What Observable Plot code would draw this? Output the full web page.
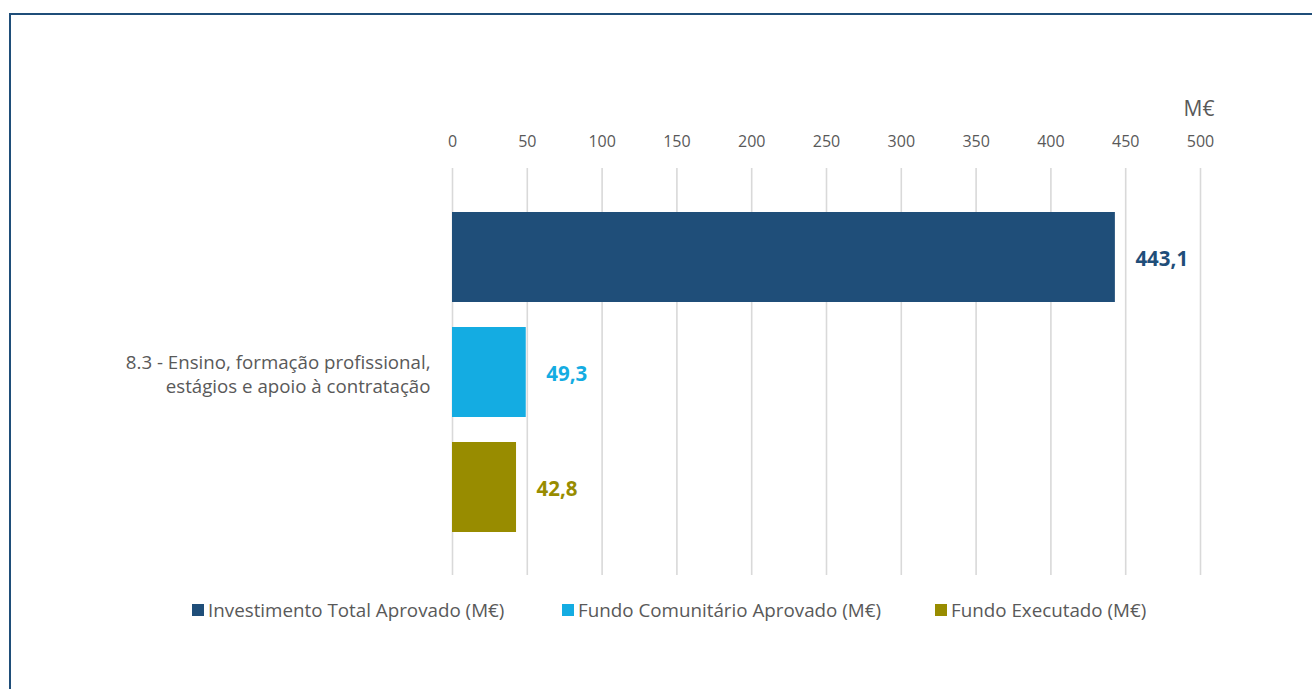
<!DOCTYPE html>
<html>
<head>
<meta charset="utf-8">
<script src="https://cdn.jsdelivr.net/npm/d3@7"></script>
<script src="https://cdn.jsdelivr.net/npm/@observablehq/plot@0.6"></script>
<style>
  html, body { margin: 0; padding: 0; background: #fff; width: 1312px; height: 689px; overflow: hidden; }
  #wrap { position: relative; width: 1312px; height: 689px; font-family: "Open Sans", Lato, sans-serif; }
  #frame { position: absolute; left: 9px; top: 13px; width: 1320px; height: 700px; border-left: 2px solid #1f4e79; border-top: 2px solid #1f4e79; box-sizing: border-box; }
  #chart { position: absolute; left: 0; top: 0; }
  .leg { position: absolute; top: 597px; font-size: 18.8px; color: #595959; white-space: nowrap; display: flex; align-items: center; }
  .leg span.sw { display: inline-block; width: 12px; height: 12px; margin-right: 4px; }
</style>
</head>
<body>
<div id="wrap">
  <div id="frame"></div>
  <div id="chart"></div>
  <div id="legend"></div>
</div>
<script>
const category = "8.3 - Ensino, formação profissional,\nestágios e apoio à contratação";
const series = ["Investimento Total Aprovado (M€)", "Fundo Comunitário Aprovado (M€)", "Fundo Executado (M€)"];
const values = [443.1, 49.3, 42.8];
const colors = ["#1f4e79", "#14ace2", "#988c00"];
const xTicks = [0, 50, 100, 150, 200, 250, 300, 350, 400, 450, 500];
const unitLabel = "M€";
const legendLeft = [192, 562, 935];

const data = series.map((s, i) => ({series: s, value: values[i], category}));
const fmt = v => v.toFixed(1).replace(".", ",");

const chart = Plot.plot({
  width: 1312,
  height: 590,
  marginLeft: 452,
  marginRight: 112,
  marginTop: 168,
  marginBottom: 15,
  style: {fontFamily: "'Open Sans', Lato, sans-serif", background: "transparent"},
  x: {domain: [0, 500]},
  y: {type: "band", domain: series, paddingInner: 0.22, paddingOuter: 0.372, axis: null},
  color: {domain: series, range: colors},
  marks: [
    Plot.gridX(xTicks, {stroke: "#d9d9d9", strokeOpacity: 1, strokeWidth: 1.6}),
    Plot.axisX({anchor: "top", ticks: xTicks, tickSize: 0, tickPadding: 22, tickFormat: d => String(d), label: null, fontSize: 16, fill: "#595959"}),
    Plot.barX(data, {x: "value", y: "series", fill: "series"}),
    Plot.text(data, {x: "value", y: "series", text: d => fmt(d.value), fill: "series", textAnchor: "start", dx: 20, dy: 2, fontSize: 20.5, fontWeight: "bold"}),
    Plot.text([category], {frameAnchor: "left", textAnchor: "end", dx: -22, dy: 1, fontSize: 18.7, fill: "#595959", lineHeight: 1.3}),
    Plot.text([unitLabel], {frameAnchor: "top-right", textAnchor: "end", dx: 14, dy: -67, fontSize: 21, fill: "#595959"})
  ]
});
document.getElementById("chart").appendChild(chart);

const legend = document.getElementById("legend");
series.forEach((s, i) => {
  const d = document.createElement("div");
  d.className = "leg";
  d.style.left = legendLeft[i] + "px";
  d.innerHTML = `<span class="sw" style="background:${colors[i]}"></span>${s}`;
  legend.appendChild(d);
});
</script>
</body>
</html>
